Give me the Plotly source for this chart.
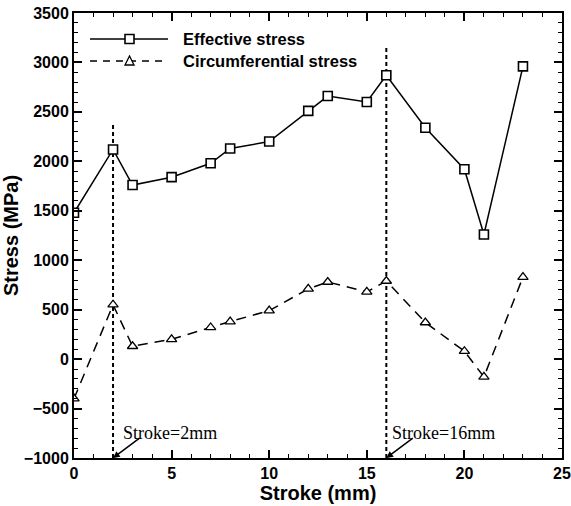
import plotly.graph_objects as go

stroke_eff = [0, 2, 3, 5, 7, 8, 10, 12, 13, 15, 16, 18, 20, 21, 23]
effective = [1480, 2120, 1760, 1840, 1980, 2130, 2200, 2510, 2660, 2600, 2870, 2340, 1920, 1260, 2960]
stroke_circ = [0, 2, 3, 5, 7, 8, 10, 12, 13, 15, 16, 18, 20, 21, 23]
circumferential = [-400, 550, 130, 200, 320, 380, 490, 710, 780, 680, 790, 370, 80, -180, 830]

marker_x = [2, 16]
marker_top = [2380, 3170]
marker_labels = ["Stroke=2mm", "Stroke=16mm"]
series_names = ["Effective stress", "Circumferential stress"]
y_min, y_max = -1000, 3500
x_min, x_max = 0, 25

fig = go.Figure()

for xv, top in zip(marker_x, marker_top):
    fig.add_trace(go.Scatter(x=[xv, xv], y=[y_min, top], mode="lines",
                             line=dict(color="black", width=2, dash="4px,3px"),
                             showlegend=False, hoverinfo="skip"))

fig.add_trace(go.Scatter(x=stroke_eff, y=effective, mode="lines+markers",
                         name=series_names[0], showlegend=False,
                         line=dict(color="black", width=1.5),
                         marker=dict(symbol="square", size=9, color="white",
                                     line=dict(width=1.6, color="black"))))
fig.add_trace(go.Scatter(x=stroke_circ, y=circumferential, mode="lines+markers",
                         name=series_names[1], showlegend=False,
                         line=dict(color="black", width=1.5, dash="10px,7px"),
                         marker=dict(symbol="triangle-up", size=9, color="white",
                                     line=dict(width=1.3, color="black"))))

# marker-line labels with arrows
for xv, lab in zip(marker_x, marker_labels):
    fig.add_annotation(x=xv, y=y_min, xref="x", yref="y", text="",
                       showarrow=True, arrowhead=2, arrowsize=0.9, arrowwidth=1.5,
                       arrowcolor="black", ax=28, ay=-21, standoff=0)
    fig.add_annotation(x=xv, y=y_min, xref="x", yref="y", text=lab,
                       showarrow=False, xshift=57, yshift=25,
                       xanchor="center", yanchor="middle",
                       font=dict(family="Liberation Serif", size=18, color="black"))

# manual legend (layout decoration)
L, R, T, B, W, H = 74, 562, 13, 458, 488, 445
def px(x):
    return (x - L) / W
def py(y):
    return 1 - (y - T) / H
rows = [39, 61]
for i, (yy, name) in enumerate(zip(rows, series_names)):
    fig.add_shape(type="line", xref="paper", yref="paper",
                  x0=px(90), x1=px(168), y0=py(yy), y1=py(yy),
                  line=dict(color="black", width=1.5, dash="solid" if i == 0 else "7px,6px"))
    if i == 0:
        fig.add_shape(type="rect", xref="paper", yref="paper",
                      x0=px(125), x1=px(134), y0=py(yy + 4.5), y1=py(yy - 4.5),
                      fillcolor="white", line=dict(color="black", width=1.6))
    else:
        fig.add_shape(type="path", xref="paper", yref="paper",
                      path=f"M {px(129.5)} {py(yy - 5)} L {px(125)} {py(yy + 4)} L {px(134)} {py(yy + 4)} Z",
                      fillcolor="white", line=dict(color="black", width=1.3))
    fig.add_annotation(x=px(181), y=py(yy), xref="paper", yref="paper", text=name,
                       showarrow=False, xanchor="left", yanchor="middle",
                       font=dict(family="Liberation Sans", size=16.5, color="black", weight="bold"))

axis_common = dict(
    showline=True, linecolor="black", linewidth=2, mirror="ticks",
    ticks="inside", tickcolor="black", ticklen=8, tickwidth=1.5,
    showgrid=False, zeroline=False, automargin=False,
    tickfont=dict(family="Liberation Sans", size=16, color="black", weight="bold"),
)

fig.update_xaxes(range=[x_min, x_max], dtick=5,
                 minor=dict(dtick=1, ticks="inside", ticklen=4, tickcolor="black", tickwidth=1),
                 title=dict(text="Stroke (mm)", standoff=4,
                            font=dict(family="Liberation Sans", size=20, color="black", weight="bold")),
                 **axis_common)
fig.update_yaxes(range=[y_min, y_max], dtick=500,
                 minor=dict(dtick=100, ticks="inside", ticklen=4, tickcolor="black", tickwidth=1),
                 title=dict(text="Stress (MPa)", standoff=6,
                            font=dict(family="Liberation Sans", size=20, color="black", weight="bold")),
                 **axis_common)

fig.update_layout(
    width=571, height=506,
    margin=dict(l=L, r=571 - R, t=T, b=506 - B),
    plot_bgcolor="white", paper_bgcolor="white",
    showlegend=False,
)

fig.write_html("out.html", config={"displayModeBar": False},
               post_script="document.body.style.margin='0';document.body.style.padding='0';document.body.style.overflow='hidden';")
